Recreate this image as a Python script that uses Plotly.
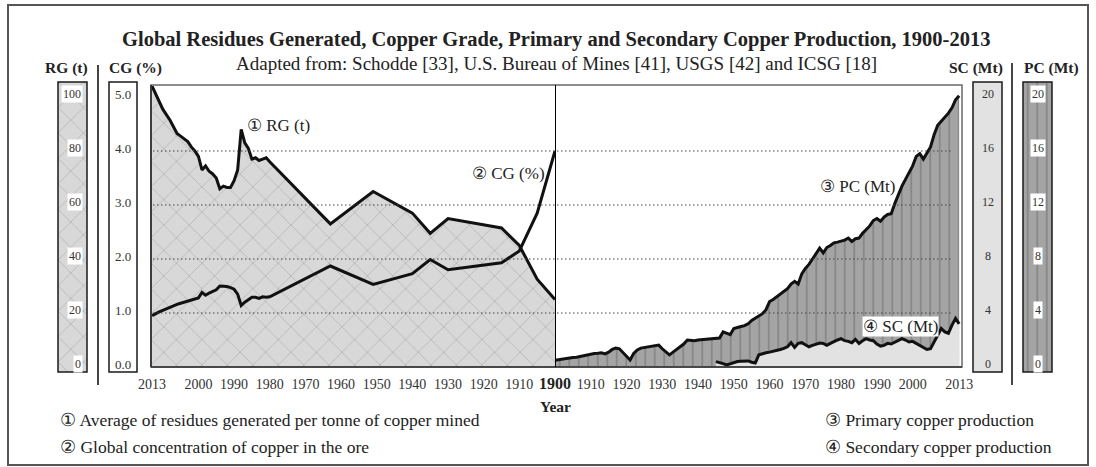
import plotly.graph_objects as go

# ---------------- data ----------------
left_years = [2013, 2012, 2011, 2010, 2009, 2008, 2007, 2006, 2005, 2004, 2003, 2002, 2001, 2000,
              1999, 1998, 1997, 1996, 1995, 1994, 1993, 1992, 1991, 1990, 1989, 1988, 1987, 1986,
              1985, 1984, 1983, 1982, 1981, 1980, 1963, 1951, 1940, 1935, 1930, 1915, 1910, 1905, 1900]
rg_values = [104, 101, 98.5, 95.5, 93.5, 91.5, 89, 86.5, 85.5, 84.5, 83.5, 81.5, 80, 78,
             73, 74.5, 72.5, 71.5, 70, 66, 67, 66.5, 66.5, 69, 73, 88, 83, 81,
             77, 77.5, 76.5, 77, 77.5, 76, 53, 65, 57, 49.5, 55, 51.5, 45, 32.5, 25]
cg_values = [0.95, 0.99, 1.02, 1.05, 1.08, 1.11, 1.14, 1.16, 1.18, 1.2, 1.21, 1.23, 1.26, 1.28,
             1.38, 1.33, 1.37, 1.4, 1.43, 1.5, 1.5, 1.49, 1.47, 1.44, 1.35, 1.14, 1.2, 1.24,
             1.29, 1.29, 1.27, 1.3, 1.29, 1.3, 1.87, 1.53, 1.73, 1.99, 1.8, 1.93, 2.15, 2.85, 4.0]

pc_years = list(range(1900, 2014))
pc_values = [0.5, 0.55, 0.6, 0.65, 0.68, 0.7, 0.72, 0.78, 0.82, 0.88,
             0.95, 1.0, 1.02, 1.05, 0.97, 1.1, 1.3, 1.4, 1.35, 1.05,
             0.8, 0.52, 1.0, 1.27, 1.4, 1.45, 1.5, 1.55, 1.62, 1.62,
             1.35, 1.15, 0.9, 1.1, 1.3, 1.45, 1.7, 2.0, 1.95, 1.95,
             2.0, 2.02, 2.05, 2.07, 2.1, 2.12, 2.15, 2.6, 2.5, 2.4,
             2.85, 2.9, 3.0, 3.06, 3.2, 3.45, 3.63, 3.75, 3.95, 4.25,
             4.85, 5.0, 5.2, 5.35, 5.6, 5.8, 6.15, 6.35, 6.15, 6.9,
             7.3, 7.6, 8.0, 8.45, 8.8, 8.45, 8.85, 9.0, 9.2, 9.25,
             9.3, 9.4, 9.55, 9.3, 9.5, 9.55, 9.9, 10.2, 10.45, 10.85,
             11.0, 10.8, 11.1, 11.3, 11.35, 12.1, 12.8, 13.4, 13.9, 14.4,
             14.9, 15.6, 15.8, 15.4, 15.8, 16.3, 17.2, 17.9, 18.2, 18.5,
             18.8, 19.2, 19.8, 20.1]

sc_years = list(range(1945, 2014))
sc_values = [0.4, 0.35, 0.25, 0.15, 0.25,
             0.35, 0.4, 0.42, 0.45, 0.45, 0.35, 0.3, 0.9, 1.0, 1.05,
             1.1, 1.15, 1.2, 1.3, 1.38, 1.5, 1.8, 1.45, 1.75, 1.8,
             1.65, 1.5, 1.6, 1.7, 1.78, 1.75, 1.6, 1.75, 1.9, 2.0,
             2.1, 1.95, 1.9, 1.8, 2.05, 1.75, 1.95, 2.1, 2.0, 1.95,
             1.7, 1.55, 1.6, 1.75, 1.7, 1.85, 1.95, 2.1, 2.0, 1.85,
             1.9, 1.75, 1.6, 1.5, 1.3, 1.35, 1.85, 2.3, 2.85, 2.6,
             2.5, 3.1, 3.6, 3.2]

left_tick_years = [2013, 2000, 1990, 1980, 1970, 1960, 1950, 1940, 1930, 1920, 1910]
right_tick_years = [1910, 1920, 1930, 1940, 1950, 1960, 1970, 1980, 1990, 2000, 2013]
rg_ticks = [0, 20, 40, 60, 80, 100]
cg_ticks = [0.0, 1.0, 2.0, 3.0, 4.0, 5.0]
sc_ticks = [0, 4, 8, 12, 16, 20]
pc_ticks = [0, 4, 8, 12, 16, 20]
cg_grid = [1.0, 2.0, 3.0, 4.0]

# ---------------- geometry (pixels) ----------------
W, H = 1096, 467
SERIF = "Liberation Serif"
TXT = "#222222"


def px(x):
    return x / W


def py(y):
    return 1 - y / H


PL, PM, PR = 151, 555, 962
PT, PB = 85, 367
GRID = 54.0            # pixels per grid step
ST, SB = 82, 372       # strip top / bottom
CG_STEP, RG_STEP, MT_STEP = 1.0, 20.0, 4.0


def top_of(step):
    return step * (PB - PT) / GRID


def strip_range(step):
    return [-step * (SB - PB) / GRID, step * (PB - ST) / GRID]


HATCH_BG, HATCH_FG = "#d8d8d8", "#7e7e7e"
PC_BG, PC_FG = "#a4a4a4", "#4a4a4a"
SC_BG = "#e2e2e2"
HATCH = dict(shape="x", size=18, solidity=0.07, fgcolor=HATCH_FG, bgcolor=HATCH_BG)
VLINES = dict(shape="|", size=9.5, solidity=0.12, fgcolor=PC_FG, bgcolor=PC_BG)

fig = go.Figure()

# ---------------- side strips ----------------
strips = [
    ("RG (t)", 58, 87, RG_STEP, rg_ticks, "{:d}", HATCH_BG, HATCH, 66, "right", True),
    ("CG (%)", 109, 137, CG_STEP, cg_ticks, "{:.1f}", "#ffffff", None, 135, "center", False),
    ("SC (Mt)", 973, 1002, MT_STEP, sc_ticks, "{:d}", SC_BG, None, 976, "center", False),
    ("PC (Mt)", 1023, 1052, MT_STEP, pc_ticks, "{:d}", PC_BG, VLINES, 1051, "center", True),
]

layout_axes = {}
annotations = []
shapes = []

for i, (name, x0, x1, step, ticks, fmt, bg, pattern, lab_x, align, boxed) in enumerate(strips):
    xa = f"x{3 + i}"
    ya = f"y{4 + i}"
    lo, hi = strip_range(step)
    layout_axes[f"xaxis{3 + i}"] = dict(domain=[px(x0), px(x1)], range=[0, 1], visible=False,
                                       anchor=ya, fixedrange=True)
    layout_axes[f"yaxis{4 + i}"] = dict(domain=[py(SB), py(ST)], range=[lo, hi], visible=False,
                                       anchor=xa, fixedrange=True)
    tr = dict(x=[0, 1, 1, 0, 0], y=[lo, lo, hi, hi, lo], xaxis=xa, yaxis=ya, mode="none",
              fill="toself", fillcolor=bg, hoverinfo="skip", showlegend=False)
    if pattern:
        tr["fillpattern"] = pattern
    fig.add_trace(go.Scatter(**tr))
    shapes.append(dict(type="rect", xref=f"{xa} domain", yref=f"{ya} domain", x0=0, x1=1, y0=0, y1=1,
                       line=dict(color="#1a1a1a", width=1.5), layer="above"))
    for t in ticks:
        txt = fmt.format(t)
        annotations.append(dict(
            x=0.86 if align == "right" else 0.5, xref=xa, y=t, yref=ya, yshift=3,
            xanchor="right" if align == "right" else "center", yanchor="middle",
            text=txt, showarrow=False,
            font=dict(family=SERIF, size=12 if boxed or i == 2 else 13, color="#333"),
            bgcolor="#ffffff" if boxed else None, borderpad=1))
    annotations.append(dict(x=px(lab_x), y=py(68), xref="paper", yref="paper", text=f"<b>{name}</b>",
                            showarrow=False, xanchor="center", yanchor="middle",
                            font=dict(family=SERIF, size=15.5, color=TXT)))

# ---------------- main traces ----------------
fig.add_trace(go.Scatter(
    x=left_years, y=rg_values, xaxis="x", yaxis="y", mode="lines",
    line=dict(color="#111", width=3), fill="tozeroy", fillcolor=HATCH_BG, fillpattern=HATCH,
    hoverinfo="skip", showlegend=False))
fig.add_trace(go.Scatter(
    x=left_years, y=cg_values, xaxis="x", yaxis="y3", mode="lines",
    line=dict(color="#111", width=3), hoverinfo="skip", showlegend=False))
fig.add_trace(go.Scatter(
    x=pc_years, y=pc_values, xaxis="x2", yaxis="y2", mode="lines",
    line=dict(color="#111", width=3), fill="tozeroy", fillcolor=PC_BG, fillpattern=VLINES,
    hoverinfo="skip", showlegend=False))
fig.add_trace(go.Scatter(
    x=sc_years, y=sc_values, xaxis="x2", yaxis="y2", mode="lines",
    line=dict(color="#111", width=3), fill="tozeroy", fillcolor=SC_BG,
    hoverinfo="skip", showlegend=False))

tickfont = dict(family=SERIF, size=14, color="#333")
layout_axes["xaxis"] = dict(domain=[px(PL), px(PM)], range=[2013.3, 1900], anchor="y",
                            tickvals=left_tick_years, ticktext=[str(v) for v in left_tick_years],
                            ticks="outside", ticklen=4, tickcolor="rgba(0,0,0,0)",
                            showgrid=False, zeroline=False, showline=False, tickfont=tickfont,
                            fixedrange=True)
layout_axes["xaxis2"] = dict(domain=[px(PM), px(PR)], range=[1900, 2013.8], anchor="y2",
                             tickvals=right_tick_years, ticktext=[str(v) for v in right_tick_years],
                             ticks="outside", ticklen=4, tickcolor="rgba(0,0,0,0)",
                             showgrid=False, zeroline=False, showline=False, tickfont=tickfont,
                             fixedrange=True)
layout_axes["yaxis"] = dict(domain=[py(PB), py(PT)], range=[0, top_of(RG_STEP)], anchor="x",
                            visible=False, fixedrange=True)
layout_axes["yaxis3"] = dict(range=[0, top_of(CG_STEP)], overlaying="y", anchor="x",
                             visible=False, fixedrange=True)
layout_axes["yaxis2"] = dict(domain=[py(PB), py(PT)], range=[0, top_of(MT_STEP)], anchor="x2",
                             visible=False, fixedrange=True)

for g in cg_grid:
    shapes.append(dict(type="line", xref="paper", yref="y3", x0=px(153), x1=px(951), y0=g, y1=g,
                       line=dict(color="#444", width=1.2, dash="1.5px,2.5px"), layer="above"))

shapes += [
    dict(type="rect", xref="paper", yref="paper", x0=px(8), x1=px(1088), y0=py(465), y1=py(5),
         line=dict(color="#555", width=2)),
    dict(type="rect", xref="paper", yref="paper", x0=px(PL), x1=px(PR), y0=py(PB), y1=py(PT),
         line=dict(color="#6a6a6a", width=1.5), layer="above"),
    dict(type="line", xref="paper", yref="paper", x0=px(PL), x1=px(PL), y0=py(PB), y1=py(PT),
         line=dict(color="#222", width=1.5), layer="above"),
    dict(type="line", xref="paper", yref="paper", x0=px(PL), x1=px(PR), y0=py(PB), y1=py(PB),
         line=dict(color="#333", width=1.5), layer="above"),
    dict(type="line", xref="x2", yref="paper", x0=1900, x1=1900, y0=py(PB), y1=py(PT),
         line=dict(color="#000", width=2), layer="above"),
    dict(type="line", xref="paper", yref="paper", x0=px(98), x1=px(98), y0=py(385), y1=py(65),
         line=dict(color="#444", width=2)),
    dict(type="line", xref="paper", yref="paper", x0=px(1012), x1=px(1012), y0=py(385), y1=py(63),
         line=dict(color="#444", width=2)),
]


def text_ann(text, x, y, size, xanchor="left", bg=None):
    d = dict(x=px(x), y=py(y), xref="paper", yref="paper", text=text, showarrow=False,
             xanchor=xanchor, yanchor="middle", font=dict(family=SERIF, size=size, color=TXT))
    if bg:
        d["bgcolor"] = bg
        d["borderpad"] = 0
    return d


annotations += [
    text_ann("<b>Global Residues Generated, Copper Grade, Primary and Secondary Copper Production, 1900-2013</b>",
             556, 40, 20.5, "center"),
    text_ann("Adapted from: Schodde [33], U.S. Bureau of Mines [41], USGS [42] and ICSG [18]", 556, 63, 19, "center"),
    text_ann("<b>1900</b>", 555, 383, 16, "center"),
    text_ann("<b>Year</b>", 555, 406, 15.5, "center"),
    text_ann("① RG (t)", 245, 125, 17),
    text_ann("② CG (%)", 470, 173, 17),
    text_ann("③ PC (Mt)", 818, 186, 17),
    text_ann("④ SC (Mt)", 862, 326, 17, bg="#ffffff"),
    text_ann("① Average of residues generated per tonne of copper mined", 58, 420, 17.5),
    text_ann("② Global concentration of copper in the ore", 58, 447, 17.5),
    text_ann("③ Primary copper production", 823, 420, 17.5),
    text_ann("④ Secondary copper production", 823, 447, 17.5),
]

fig.update_layout(
    width=W, height=H, margin=dict(l=0, r=0, t=0, b=0, autoexpand=False),
    autosize=False,
    paper_bgcolor="#ffffff", plot_bgcolor="#ffffff",
    showlegend=False, annotations=annotations, shapes=shapes,
    **layout_axes,
)

fig.write_html("out.html", config={"displayModeBar": False, "responsive": False})

with open("out.html", encoding="utf-8") as f:
    html = f.read()
css = ("<style>html,body{margin:0;padding:0;width:1096px;height:467px;overflow:hidden;}"
       ".plotly-graph-div{position:absolute;left:0;top:0;}</style>")
html = html.replace("<head>", "<head>" + css, 1)
with open("out.html", "w", encoding="utf-8") as f:
    f.write(html)
